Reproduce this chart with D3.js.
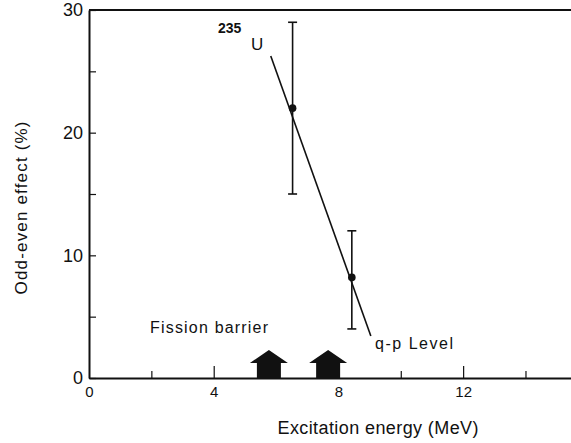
<!DOCTYPE html>
<html>
<head>
<meta charset="utf-8">
<script src="https://cdn.jsdelivr.net/npm/d3@7"></script>
<style>
  html, body { margin: 0; padding: 0; background: #fff; }
  svg { display: block; font-family: "Liberation Sans", Arial, sans-serif; }
</style>
</head>
<body>
<svg id="chart" width="571" height="443"></svg>
<script>
// Odd-even effect of 235U fission fragments vs excitation energy
const energy = [6.53, 8.43];          // MeV
const effect = [22, 8.2];             // %
const errLow = [15, 4];
const errHigh = [29, 12];

// trend line drawn through the measurements
const fitEnergy = [5.83, 9.04];
const fitEffect = [26.25, 3.42];

// fission barrier markers (MeV)
const barrierEnergy = [5.77, 7.67];

const yMajor = [0, 10, 20, 30];
const yMinor = [5, 15, 25];
const xMajor = [4, 8, 12];
const xMinor = [2, 10, 14];

const svg = d3.select("#chart");
const x = d3.scaleLinear().domain([0, 15.46]).range([89, 571]);
const y = d3.scaleLinear().domain([0, 30]).range([378, 10]);

const ink = "#111";

// y axis (inward ticks)
const yAxis = svg.append("g").attr("transform", `translate(${x(0)},0)`)
  .call(d3.axisLeft(y).tickValues(yMajor.concat(yMinor)).tickSize(-7).tickSizeOuter(0)
    .tickPadding(6).tickFormat(d => yMajor.includes(d) ? d : ""));
yAxis.select(".domain").attr("stroke", ink).attr("stroke-width", 2);
yAxis.selectAll(".tick line").attr("stroke", ink).attr("stroke-width", 1.2);
yAxis.selectAll(".tick text").attr("font-size", 18).attr("fill", ink)
  .attr("font-family", "Liberation Sans, Arial, sans-serif");

// x axis: major and minor inward ticks
const xAxis = svg.append("g").attr("transform", `translate(0,${y(0)})`)
  .call(d3.axisBottom(x).tickValues([0].concat(xMajor)).tickSize(-12).tickSizeOuter(0)
    .tickPadding(8).tickFormat(d => d));
xAxis.select(".domain").attr("stroke", ink).attr("stroke-width", 2);
xAxis.selectAll(".tick line").attr("stroke", ink).attr("stroke-width", 1.2)
  .filter(d => d === 0).remove();
xAxis.selectAll(".tick text").attr("font-size", 15).attr("fill", ink)
  .attr("font-family", "Liberation Sans, Arial, sans-serif");

const xMinorAxis = svg.append("g").attr("transform", `translate(0,${y(0)})`)
  .call(d3.axisBottom(x).tickValues(xMinor).tickSize(-7).tickSizeOuter(0).tickFormat(""));
xMinorAxis.select(".domain").remove();
xMinorAxis.selectAll(".tick line").attr("stroke", ink).attr("stroke-width", 1.2);

// top frame line
svg.append("line")
  .attr("x1", x(0)).attr("x2", x.range()[1])
  .attr("y1", y(30)).attr("y2", y(30))
  .attr("stroke", ink).attr("stroke-width", 2);

// axis titles
svg.append("text")
  .attr("x", 378).attr("y", 434)
  .attr("text-anchor", "middle")
  .attr("font-size", 18).attr("fill", ink)
  .attr("textLength", 201)
  .text("Excitation  energy (MeV)");

svg.append("text")
  .attr("transform", "translate(27,208) rotate(-90)")
  .attr("text-anchor", "middle")
  .attr("font-size", 17).attr("fill", ink)
  .attr("textLength", 173)
  .text("Odd-even effect (%)");

// fission barrier arrows
svg.selectAll("path.barrier").data(barrierEnergy).join("path")
  .attr("class", "barrier")
  .attr("fill", ink)
  .attr("d", d => {
    const cx = x(d), base = y(0);
    const p = d3.path();
    p.moveTo(cx - 12, base);
    p.lineTo(cx - 12, base - 15);
    p.lineTo(cx - 19, base - 15);
    p.lineTo(cx, base - 28);
    p.lineTo(cx + 19, base - 15);
    p.lineTo(cx + 12, base - 15);
    p.lineTo(cx + 12, base);
    p.closePath();
    return p.toString();
  });

// trend line
svg.append("path")
  .datum(d3.zip(fitEnergy, fitEffect))
  .attr("fill", "none").attr("stroke", ink).attr("stroke-width", 1.6)
  .attr("d", d3.line().x(d => x(d[0])).y(d => y(d[1])));

// error bars
const pts = energy.map((e, i) => ({ e, v: effect[i], lo: errLow[i], hi: errHigh[i] }));
const eb = svg.selectAll("g.err").data(pts).join("g").attr("class", "err")
  .attr("stroke", ink).attr("stroke-width", 1.6);
eb.append("line").attr("x1", d => x(d.e)).attr("x2", d => x(d.e))
  .attr("y1", d => y(d.lo)).attr("y2", d => y(d.hi));
eb.append("line").attr("x1", d => x(d.e) - 4.5).attr("x2", d => x(d.e) + 4.5)
  .attr("y1", d => y(d.hi)).attr("y2", d => y(d.hi));
eb.append("line").attr("x1", d => x(d.e) - 4.5).attr("x2", d => x(d.e) + 4.5)
  .attr("y1", d => y(d.lo)).attr("y2", d => y(d.lo));

svg.selectAll("circle.pt").data(pts).join("circle").attr("class", "pt")
  .attr("cx", d => x(d.e)).attr("cy", d => y(d.v)).attr("r", 3.8).attr("fill", ink);

// annotations
svg.append("text").attr("x", 218).attr("y", 33)
  .attr("font-size", 14).attr("font-weight", "bold").attr("fill", ink).text("235");
svg.append("text").attr("x", 251).attr("y", 50)
  .attr("font-size", 17).attr("fill", ink).text("U");

svg.append("text").attr("x", 150).attr("y", 333)
  .attr("font-size", 16).attr("fill", ink).attr("textLength", 118).text("Fission barrier");

svg.append("text").attr("x", 375).attr("y", 349)
  .attr("font-size", 16).attr("fill", ink).attr("textLength", 78).text("q-p Level");
</script>
</body>
</html>
